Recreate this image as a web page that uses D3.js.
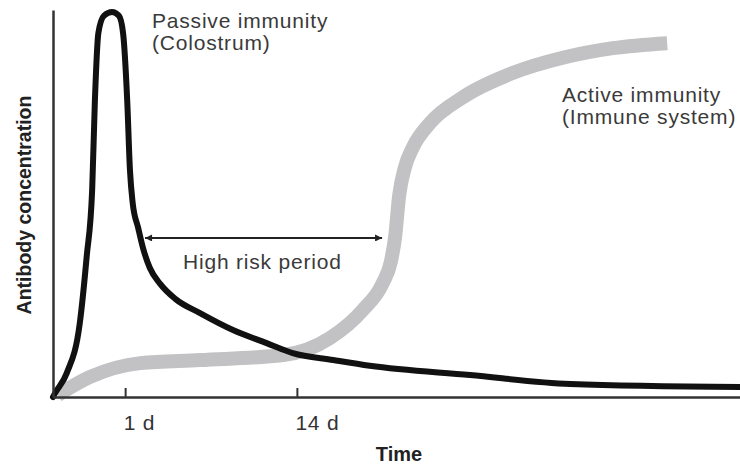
<!DOCTYPE html>
<html>
<head>
<meta charset="utf-8">
<script src="https://cdn.jsdelivr.net/npm/d3@7"></script>
<style>
  body { margin: 0; background: #fff; }
  text { font-family: Arial, "Liberation Sans", Helvetica, sans-serif; }
</style>
</head>
<body>
<div id="chart"></div>
<script>
// time runs on an arbitrary 0-100 scale, concentration 0-100 (relative)
const passiveT = [0, 0.3, 2.0, 3.9, 4.9, 5.7, 6.1, 6.6, 7.4, 8.6, 9.6, 10.2, 10.8, 11.2, 11.6, 12.4, 13.1, 14.1, 15.6, 17.8, 21.4, 26.2, 31.1, 34.9, 40.8, 46.1, 60.7, 75.3, 100];
const passiveC = [0, 1.0, 6.2, 19.2, 36.4, 53.8, 77.1, 94.5, 99, 100, 99, 94.5, 77.1, 59.0, 50.4, 43.9, 38.7, 33.5, 29.4, 25.5, 21.8, 17.4, 14.0, 11.4, 9.6, 8.1, 5.7, 3.4, 2.6];

const activeT = [0.7, 5.4, 12.7, 21.4, 33.5, 40.3, 45.1, 48.0, 49.2, 49.8, 50.4, 51.2, 52.4, 54.9, 59.7, 67.0, 74.2, 81.5, 89.4];
const activeC = [0.5, 5.2, 8.8, 9.6, 10.9, 15.3, 22.6, 29.6, 35.3, 41.6, 52.5, 59.5, 64.9, 71.2, 77.9, 84.2, 88.1, 90.6, 91.9];

const tickT = [10.5, 35.5];
const tickLabels = ["1 d", "14 d"];

// high risk period runs between these two times
const riskStart = 13.4, riskEnd = 47.9, riskLevel = 41.3;

const width = 740, height = 464;

let svg = d3.select("#chart")
  .append("svg")
  .attr("width", width)
  .attr("height", height);

let x = d3.scaleLinear().domain([0, 100]).range([53, 740]);
let y = d3.scaleLinear().domain([0, 100]).range([397, 12]);

let line = d3.line()
  .x(d => x(d[0]))
  .y(d => y(d[1]))
  .curve(d3.curveMonotoneX);

// active immunity (grey, thick)
svg.append("path")
  .attr("d", line(d3.zip(activeT, activeC)))
  .attr("fill", "none")
  .attr("stroke", "#c2c2c4")
  .attr("stroke-width", 14)
  .attr("stroke-linecap", "butt");

// passive immunity (black)
svg.append("path")
  .attr("d", line(d3.zip(passiveT, passiveC)))
  .attr("fill", "none")
  .attr("stroke", "#111")
  .attr("stroke-width", 6)
  .attr("stroke-linejoin", "round")
  .attr("stroke-linecap", "round");

// axes
let xAxis = d3.axisBottom(x)
  .tickValues(tickT)
  .tickFormat((d, i) => tickLabels[i])
  .tickSizeInner(-9)
  .tickSizeOuter(0)
  .tickPadding(18);

let gx = svg.append("g")
  .attr("transform", `translate(0,${y(0)})`)
  .call(xAxis);
gx.select(".domain").attr("stroke", "#333").attr("stroke-width", 2.5);
gx.selectAll(".tick line").attr("stroke", "#333").attr("stroke-width", 2);
gx.selectAll(".tick text")
  .attr("text-anchor", "start")
  .attr("dx", -2)
  .attr("fill", "#333")
  .style("font-size", "21px")
  .style("letter-spacing", "0.8px");

let gy = svg.append("g")
  .attr("transform", `translate(${x(0)},0)`)
  .call(d3.axisLeft(d3.scaleLinear().range([y(0), 10])).tickValues([]).tickSizeOuter(0));
gy.select(".domain").attr("stroke", "#333").attr("stroke-width", 2.5);

// arrow markers
let defs = svg.append("defs");
defs.append("marker")
  .attr("id", "head")
  .attr("viewBox", "0 0 10 10")
  .attr("refX", 10).attr("refY", 5)
  .attr("markerWidth", 12).attr("markerHeight", 7)
  .attr("markerUnits", "userSpaceOnUse")
  .attr("orient", "auto-start-reverse")
  .append("path")
  .attr("d", "M0,0 L10,5 L0,10 Z")
  .attr("fill", "#222");

svg.append("line")
  .attr("x1", x(riskStart)).attr("x2", x(riskEnd))
  .attr("y1", y(riskLevel)).attr("y2", y(riskLevel))
  .attr("stroke", "#222")
  .attr("stroke-width", 1.8)
  .attr("marker-start", "url(#head)")
  .attr("marker-end", "url(#head)");

// labels
const labelColor = "#3a3a3a";
svg.append("text")
  .attr("x", 183).attr("y", 269)
  .attr("fill", labelColor)
  .style("font-size", "21px")
  .style("letter-spacing", "0.8px")
  .text("High risk period");

let passive = svg.append("text")
  .attr("fill", labelColor)
  .style("font-size", "21px")
  .style("letter-spacing", "0.8px");
passive.append("tspan").attr("x", 152).attr("y", 28).text("Passive immunity");
passive.append("tspan").attr("x", 152).attr("y", 50).text("(Colostrum)");

let active = svg.append("text")
  .attr("fill", labelColor)
  .style("font-size", "21px")
  .style("letter-spacing", "0.8px");
active.append("tspan").attr("x", 562).attr("y", 102).text("Active immunity");
active.append("tspan").attr("x", 562).attr("y", 124).text("(Immune system)");

svg.append("text")
  .attr("x", 399).attr("y", 461)
  .attr("text-anchor", "middle")
  .attr("fill", "#222")
  .style("font-size", "20px")
  .style("font-weight", "bold")
  .text("Time");

svg.append("text")
  .attr("transform", "translate(31,205) rotate(-90)")
  .attr("text-anchor", "middle")
  .attr("fill", "#222")
  .style("font-size", "19.5px")
  .style("font-weight", "bold")
  .text("Antibody concentration");
</script>
</body>
</html>
